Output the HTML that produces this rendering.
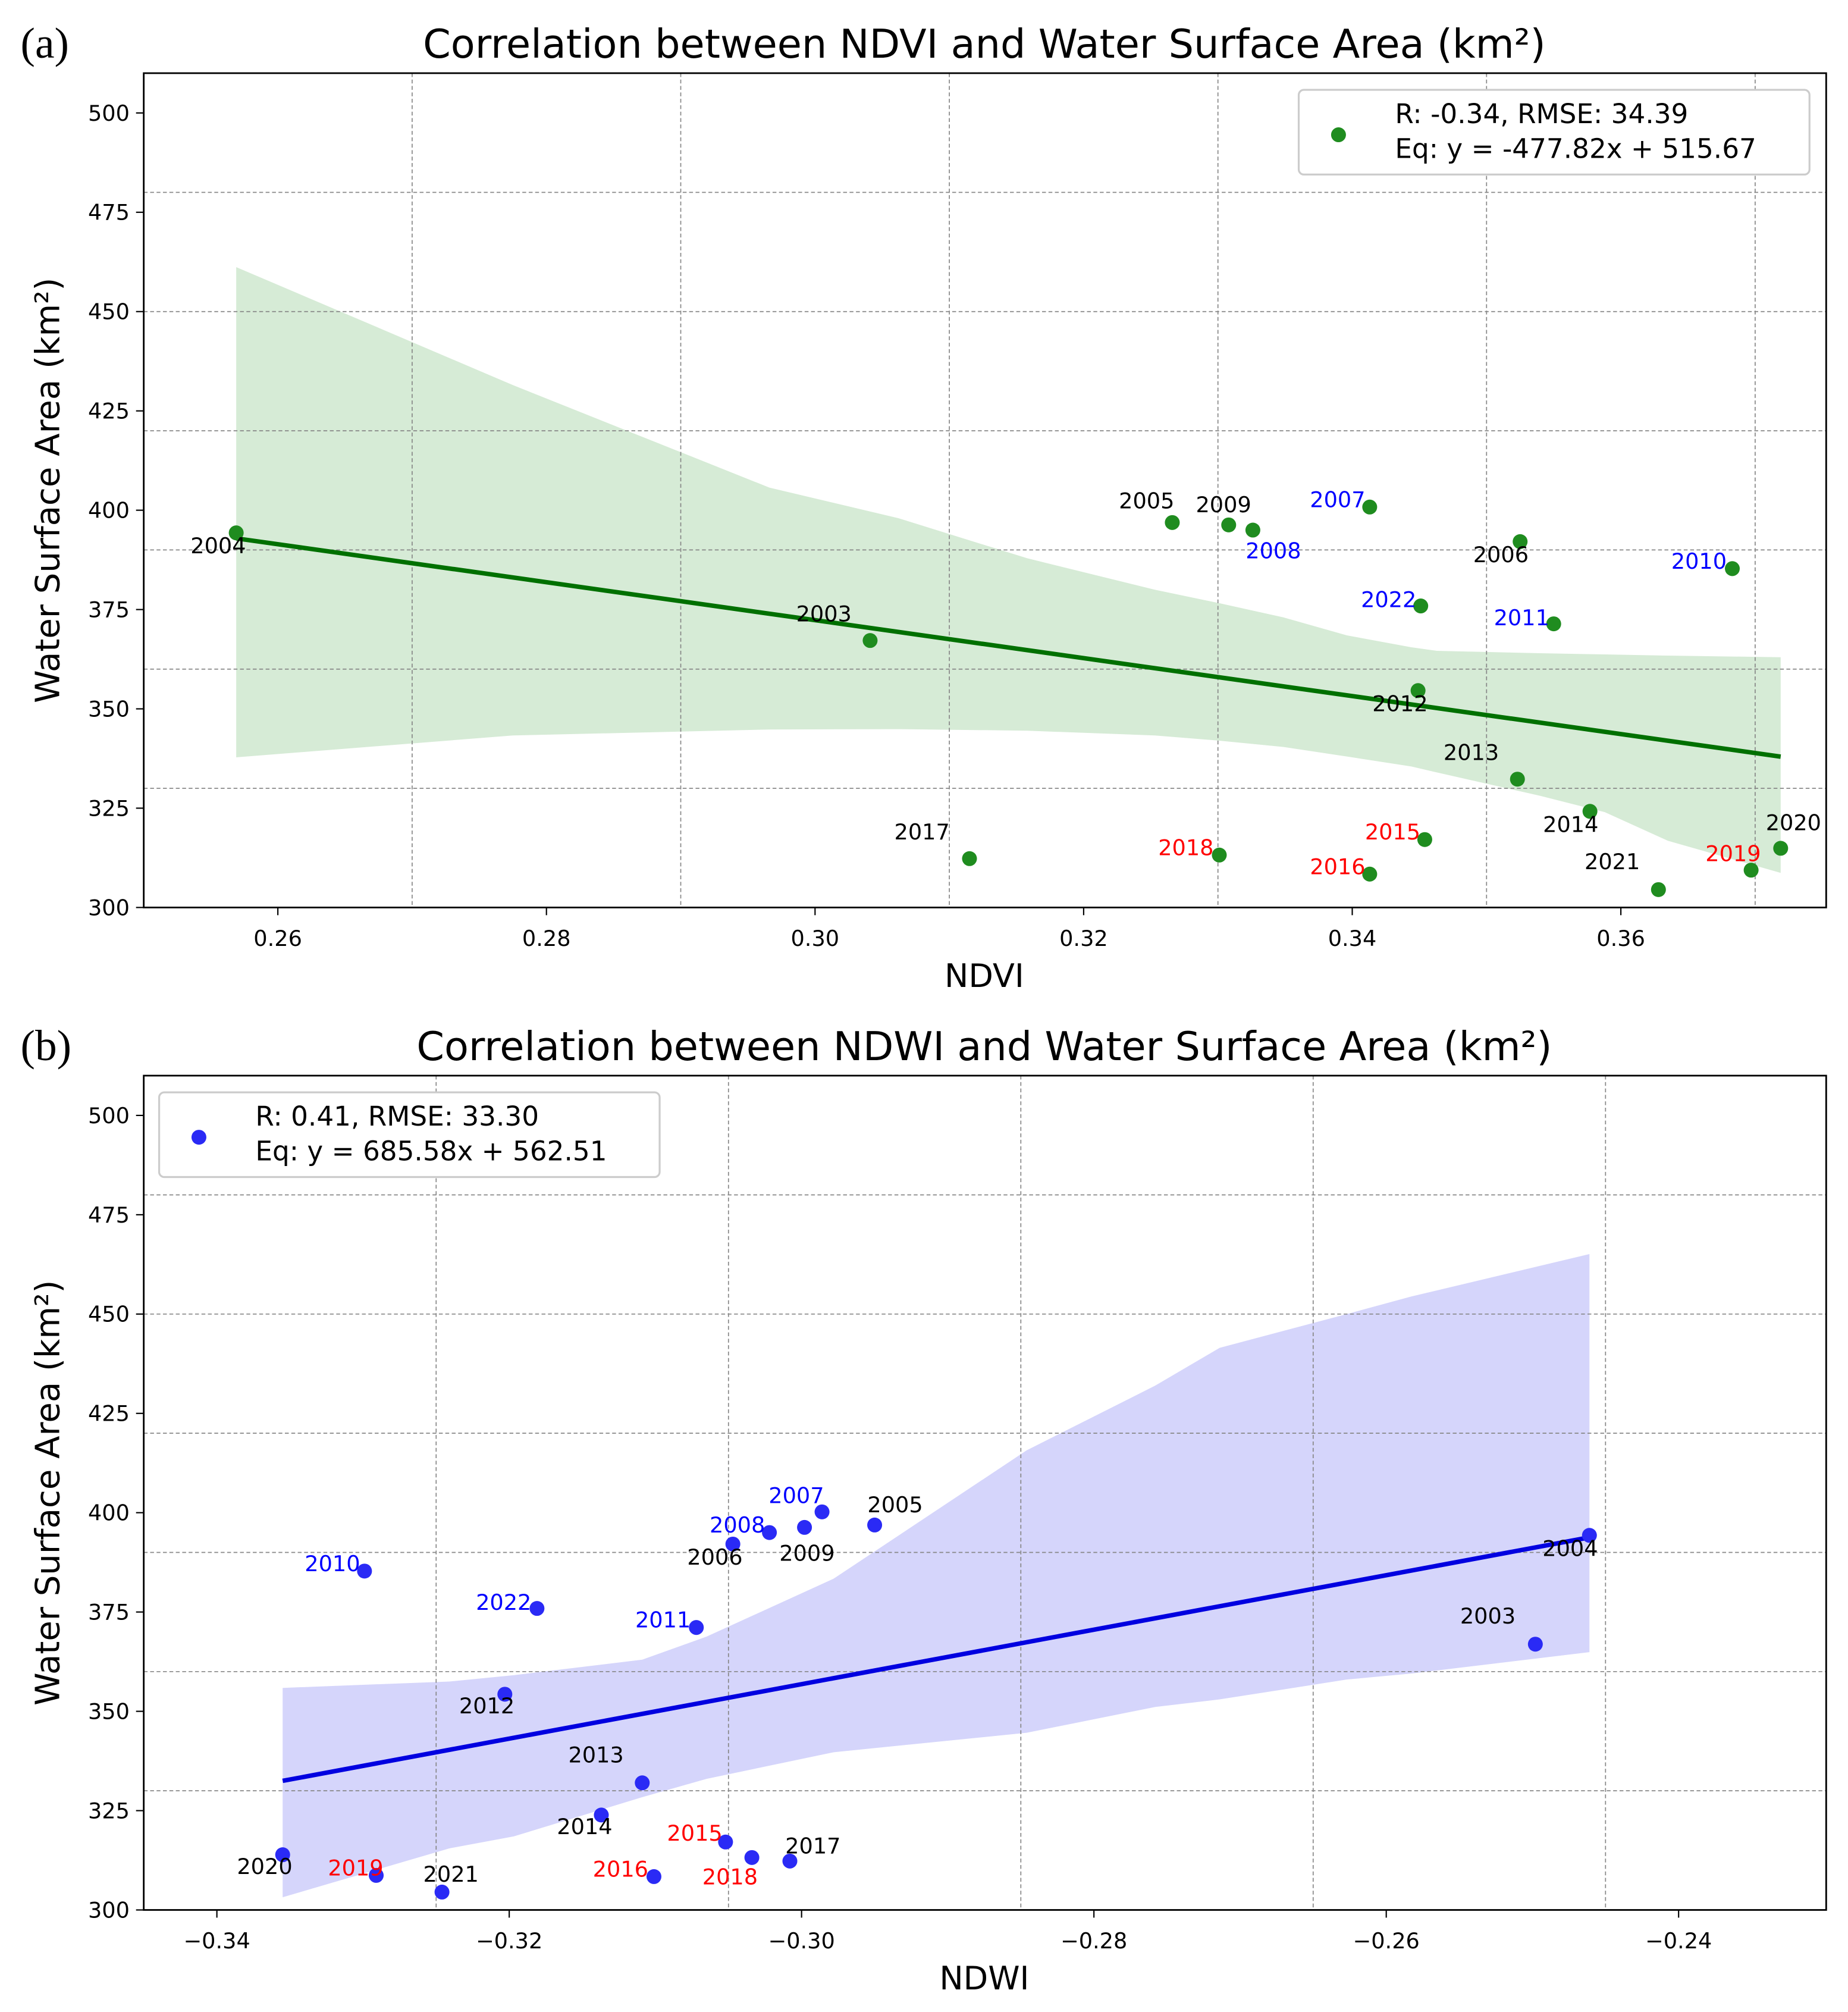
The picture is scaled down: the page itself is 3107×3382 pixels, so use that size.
<!DOCTYPE html>
<html><head><meta charset="utf-8"><style>
html,body{margin:0;padding:0;background:#fff}
svg{display:block}
text{font-family:"DejaVu Sans","Liberation Sans",sans-serif}
</style></head><body>
<svg id="fig" xmlns="http://www.w3.org/2000/svg" width="3107" height="3382" viewBox="0 0 1440 1567.5" preserveAspectRatio="none"></svg>
<script>
// ---- Panel (a) data: NDVI vs area ----
const yearsA = ["2004","2003","2017","2005","2009","2008","2018","2007","2016","2022","2012","2015","2006","2013","2011","2014","2021","2010","2019","2020"];
const ndviA = [0.2569,0.3041,0.3115,0.3266,0.3308,0.3326,0.3301,0.3413,0.3413,0.3451,0.3449,0.3454,0.3525,0.3523,0.3550,0.3577,0.3628,0.3683,0.3697,0.3719];
const areaA = [394.3,367.2,312.3,396.9,396.3,395.0,313.2,400.8,308.4,375.9,354.6,317.1,392.1,332.3,371.4,324.2,304.5,385.3,309.4,314.9];
const bandXA = [0.2569,0.2775,0.2966,0.3062,0.3158,0.3253,0.3301,0.3349,0.3396,0.3444,0.3463,0.3540,0.3588,0.3635,0.3719];
const bandUpA = [461.2,431.5,405.7,398,387.9,380,376.6,373,368.5,365.5,364.6,364,363.7,363.4,363.0];
const bandLoA = [337.8,343.3,344.8,344.9,344.5,343.3,342,340.4,338,335.5,334,328.1,324,316.8,308.7];
const slopeA = -477.82, interA = 515.67;
const xTicksA = [0.26,0.28,0.30,0.32,0.34,0.36];
const xTickLabelsA = ["0.26","0.28","0.30","0.32","0.34","0.36"];
const xGridA = [0.27,0.29,0.31,0.33,0.35,0.37];

// ---- Panel (b) data: NDWI vs area ----
const yearsB = ["2020","2019","2021","2012","2010","2022","2014","2013","2016","2011","2015","2006","2018","2008","2017","2009","2007","2005","2003","2004"];
const ndwiB = [-0.3355,-0.3291,-0.3246,-0.3203,-0.3299,-0.3181,-0.3137,-0.3109,-0.3101,-0.3072,-0.3052,-0.3047,-0.3034,-0.3022,-0.3008,-0.2998,-0.2986,-0.2950,-0.2498,-0.2461];
const areaB = [313.9,308.7,304.5,354.3,385.3,375.9,323.9,332.0,308.4,371.1,317.1,392.1,313.2,395.0,312.3,396.3,400.2,396.9,366.9,394.3];
const bandXB = [-0.3355,-0.3241,-0.3197,-0.3109,-0.3065,-0.2978,-0.2846,-0.2758,-0.2714,-0.2627,-0.2583,-0.2461];
const bandUpB = [355.9,357.5,359.1,363,368.8,383.4,415.7,432,441.5,450,454.4,465.1];
const bandLoB = [303.2,315.5,318.5,328.4,333,339.7,344.6,351.1,353,358,359.5,364.9];
const slopeB = 685.58, interB = 562.51;
const xTicksB = [-0.34,-0.32,-0.30,-0.28,-0.26,-0.24];
const xTickLabelsB = ["\u22120.34","\u22120.32","\u22120.30","\u22120.28","\u22120.26","\u22120.24"];
const xGridB = [-0.325,-0.305,-0.285,-0.265,-0.245];

const yTicks = [300,325,350,375,400,425,450,475,500];
const yGrid = [330,360,390,420,450,480];
const blueYears = ["2007","2008","2010","2011","2022"];
const redYears = ["2015","2016","2018","2019"];

const offA = {"2004":[-14,10],"2003":[-36,-21],"2017":[-37,-21],"2005":[-20,-17],"2009":[-4,-16],"2008":[16,16],"2018":[-26,-6],"2007":[-25,-6],"2016":[-25,-6],"2022":[-25,-5],"2012":[-14,10],"2015":[-25,-6],"2006":[-15,10],"2013":[-36,-21],"2011":[-25,-5],"2014":[-15,10],"2021":[-36,-22],"2010":[-26,-6],"2019":[-14,-13],"2020":[10,-20]};
const offB = {"2020":[-14,9],"2019":[-16,-6],"2021":[7,-14],"2012":[-14,9],"2010":[-25,-6],"2022":[-26,-5],"2014":[-13,9],"2013":[-36,-22],"2016":[-26,-6],"2011":[-26,-6],"2015":[-24,-7],"2006":[-14,10],"2018":[-17,15],"2008":[-25,-6],"2017":[18,-12],"2009":[2,20],"2007":[-20,-13],"2005":[16,-16],"2003":[-37,-22],"2004":[-15,10]};

const NS = "http://www.w3.org/2000/svg";
const svg = document.getElementById("fig");
function mk(tag, attrs, parent, txt){
  const e = document.createElementNS(NS, tag);
  for (const k in attrs) e.setAttribute(k, attrs[k]);
  if (txt !== undefined) e.textContent = txt;
  (parent||svg).appendChild(e);
  return e;
}

function panel(cfg){
  const g = mk("g", {});
  
  
  const L=112, R=1423, T=cfg.top, B=cfg.top+650;
  const X = v => cfg.x0px + (v - cfg.x0) * cfg.pxPer;
  const Y = v => B - (v - 300) * 3.095;
  let d = "";
  cfg.bx.forEach((v,i)=>{ d += (i?"L":"M")+X(v)+","+Y(cfg.bu[i]); });
  for (let i=cfg.bx.length-1;i>=0;i--) d += "L"+X(cfg.bx[i])+","+Y(cfg.bl[i]);
  const band = mk("path", {d:d+"Z", fill:cfg.bandColor, stroke:"none"}, g);
  
  
  cfg.xg.forEach(v=>{
    const l = mk("line",{x1:X(v),x2:X(v),y1:T,y2:B,stroke:"#888","stroke-width":0.8,"stroke-dasharray":"3,2"},g);
    
    
  });
  yGrid.forEach(v=>{
    const l = mk("line",{x1:L,x2:R,y1:Y(v),y2:Y(v),stroke:"#888","stroke-width":0.8,"stroke-dasharray":"3,2"},g);
    
    
  });
  const xmin = Math.min(...cfg.xs), xmax = Math.max(...cfg.xs);
  const rl = mk("line",{x1:X(xmin),y1:Y(cfg.slope*xmin+cfg.inter),x2:X(xmax),y2:Y(cfg.slope*xmax+cfg.inter),stroke:cfg.lineColor,"stroke-width":3.5},g);
  
  
  cfg.xs.forEach((v,i)=>{
    const c = mk("circle",{cx:X(v),cy:Y(cfg.ys[i]),r:5.8,fill:cfg.dotColor},g);
    
    
  });
  cfg.xs.forEach((v,i)=>{
    const yr = cfg.years[i], o = cfg.off[yr];
    const col = blueYears.includes(yr) ? "#0000ff" : (redYears.includes(yr) ? "#ff0000" : "#000");
    const t = mk("text",{x:X(v)+o[0],y:Y(cfg.ys[i])+o[1]+6,"font-size":17,"text-anchor":"middle",fill:col},g,yr);
    
    
  });
  const fr = mk("rect",{x:L,y:T,width:R-L,height:B-T,fill:"none",stroke:"#000","stroke-width":1.3},g);
  
  
  cfg.xt.forEach((v,i)=>{
    mk("line",{x1:X(v),x2:X(v),y1:B,y2:B+6,stroke:"#000","stroke-width":1},g);
    const t = mk("text",{x:X(v),y:B+30,"font-size":17,"text-anchor":"middle"},g,cfg.xtl[i]);
    
    
  });
  yTicks.forEach(v=>{
    mk("line",{x1:L-6,x2:L,y1:Y(v),y2:Y(v),stroke:"#000","stroke-width":1},g);
    const t = mk("text",{x:L-11,y:Y(v)+6,"font-size":17,"text-anchor":"end"},g,String(v));
    
    
  });
  const xt = mk("text",{x:767,y:B+62,"font-size":25,"text-anchor":"middle"},g,cfg.xlabel);
  
  
  const yt = mk("text",{x:0,y:0,"font-size":26,"text-anchor":"middle",transform:"translate(46,"+(T+325)+") rotate(-90)"},g,"Water Surface Area (km\u00b2)");
  
  
  const tt = mk("text",{x:767,y:T-12,"font-size":31,"text-anchor":"middle"},g,cfg.title);
  
  
  const pl = mk("text",{x:16,y:T-12,"font-size":34,style:"font-family:'Liberation Serif',serif"},g,cfg.tag);
  
  
  const lg = mk("g",{},g);
  
  
  mk("rect",{x:cfg.lx,y:T+13,width:cfg.lw,height:66,rx:4,fill:"#fff",stroke:"#ccc","stroke-width":1.5},lg);
  mk("circle",{cx:cfg.lx+31,cy:T+48,r:5.8,fill:cfg.dotColor},lg);
  const l1 = mk("text",{x:cfg.lx+75,y:T+39,"font-size":21},lg,cfg.leg1);
  
  
  const l2 = mk("text",{x:cfg.lx+75,y:T+66,"font-size":21},lg,cfg.leg2);
  
  
}

panel({name:"ndvi-panel",top:57,x0:0.26,x0px:216.5,pxPer:10465,xs:ndviA,ys:areaA,years:yearsA,off:offA,
  bx:bandXA,bu:bandUpA,bl:bandLoA,slope:slopeA,inter:interA,xt:xTicksA,xtl:xTickLabelsA,xg:xGridA,
  bandColor:"#d6ebd6",lineColor:"#007000",dotColor:"#1f8c1f",xlabel:"NDVI",tag:"(a)",
  title:"Correlation between NDVI and Water Surface Area (km\u00b2)",
  lx:1012,lw:398,leg1:"R: -0.34, RMSE: 34.39",leg2:"Eq: y = -477.82x + 515.67"});
panel({name:"ndwi-panel",top:838,x0:-0.34,x0px:169,pxPer:11390,xs:ndwiB,ys:areaB,years:yearsB,off:offB,
  bx:bandXB,bu:bandUpB,bl:bandLoB,slope:slopeB,inter:interB,xt:xTicksB,xtl:xTickLabelsB,xg:xGridB,
  bandColor:"#d5d5fb",lineColor:"#0000e0",dotColor:"#2a2af5",xlabel:"NDWI",tag:"(b)",
  title:"Correlation between NDWI and Water Surface Area (km\u00b2)",
  lx:124,lw:390,leg1:"R: 0.41, RMSE: 33.30",leg2:"Eq: y = 685.58x + 562.51"});
</script>
</body></html>
